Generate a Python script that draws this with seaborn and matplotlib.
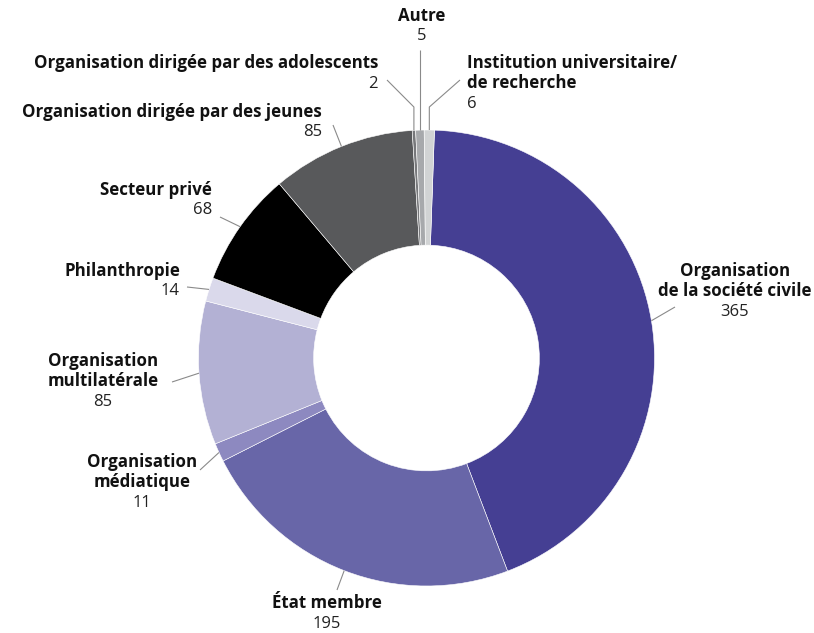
import matplotlib
matplotlib.use("Agg")
import matplotlib.pyplot as plt
import numpy as np
import seaborn as sns

# data, clockwise from the top
categories = [
    "Organisation de la société civile",
    "État membre",
    "Organisation médiatique",
    "Organisation multilatérale",
    "Philanthropie",
    "Secteur privé",
    "Organisation dirigée par des jeunes",
    "Organisation dirigée par des adolescents",
    "Autre",
    "Institution universitaire/de recherche",
]
values = [365, 195, 11, 85, 14, 68, 85, 2, 5, 6]
label_lines = [
    ["Organisation", "de la société civile"],
    ["État membre"],
    ["Organisation", "médiatique"],
    ["Organisation", "multilatérale"],
    ["Philanthropie"],
    ["Secteur privé"],
    ["Organisation dirigée par des jeunes"],
    ["Organisation dirigée par des adolescents"],
    ["Autre"],
    ["Institution universitaire/", "de recherche"],
]
colors = ["#453f93", "#6866a8", "#8d89c0", "#b3b1d4", "#dad9eb",
          "#000000", "#58595b", "#77787b", "#a7a9ac", "#d1d3d4"]

# layout (pixels in the 814x633 image): text x, first line y, alignment,
# leader end, optional elbow height
layout = [
    (735, 271, "center", (675, 307), None),
    (327, 603, "center", (337, 590), None),
    (142, 462, "center", (200, 470), None),
    (103, 361, "center", (172, 382), None),
    (180, 271, "right", (187, 287), None),
    (212, 190, "right", (220, 217), None),
    (322, 112, "right", (333, 125), None),
    (378, 63, "right", (387, 80), 107),
    (422, 16, "center", (None, 50), None),
    (467, 63, "left", (460, 80), 107),
]

W, H = 814, 633
CX, CY, R = 426.5, 358.0, 228.0


def px(x, y):
    return (x - CX) / R, (CY - y) / R


sns.set_theme(style="white")
plt.rcParams["font.family"] = ["Open Sans", "DejaVu Sans"]

fig = plt.figure(figsize=(W / 100, H / 100), dpi=100)
ax = fig.add_axes([0, 0, 1, 1])

wedges, _ = ax.pie(
    values,
    colors=colors,
    startangle=88,
    counterclock=False,
    radius=1.0,
    wedgeprops=dict(width=0.505, edgecolor="white", linewidth=0.4),
)

ax.set_xlim(px(0, 0)[0], px(W, 0)[0])
ax.set_ylim(px(0, H)[1], px(0, 0)[1])
ax.set_aspect("equal")
ax.axis("off")

step = 20.5
for w, lines, val, (tx, ty, ha, end, elbow) in zip(wedges, label_lines, values, layout):
    mid = np.deg2rad((w.theta1 + w.theta2) / 2)
    sx, sy = np.cos(mid), np.sin(mid)
    ex = sx if end[0] is None else px(end[0], 0)[0]
    ey = px(0, end[1])[1]
    if elbow is not None:
        ely = px(0, elbow)[1]
        xs, ys = [sx, sx, ex], [sy, ely, ey]
    else:
        xs, ys = [sx, ex], [sy, ey]
    ax.plot(xs, ys, color="#8a8a8a", lw=0.8, solid_capstyle="butt")

    for i, line in enumerate(lines):
        x, y = px(tx, ty + i * step)
        ax.text(x, y, line, ha=ha, va="center", fontsize=12.2,
                fontweight="bold", color="#111111")
    x, y = px(tx, ty + len(lines) * step)
    ax.text(x, y, str(val), ha=ha, va="center", fontsize=12,
            fontweight="normal", color="#222222")

fig.savefig("out.png", dpi=100)
